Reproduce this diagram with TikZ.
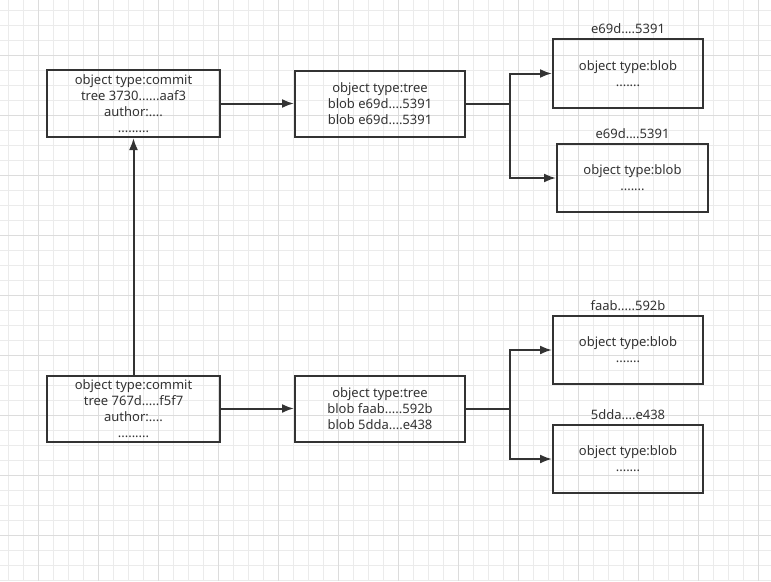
\documentclass[tikz,border=0pt]{standalone}
\usepackage{fontspec}
\setmainfont{Noto Sans}
\usetikzlibrary{arrows.meta}
\definecolor{ink}{HTML}{333333}
\definecolor{gridminor}{HTML}{EBEBEB}
\definecolor{gridmajor}{HTML}{DCDCDC}
\begin{document}
\begin{tikzpicture}[x=1pt, y=-1pt,
    obj/.style={draw=ink, line width=2pt, text=ink, align=center,
      font=\fontsize{13}{16}\selectfont, inner sep=0pt},
    lbl/.style={text=ink, font=\fontsize{13}{16}\selectfont, inner sep=4pt},
    arr/.style={-{Latex[length=12pt,width=9pt]}, draw=ink, line width=2pt}]
    \useasboundingbox (0,0) rectangle (771,581);
    \fill[white] (0,0) rectangle (771,581);
    % grid
    \foreach \x in {8,23,...,770} \draw[gridminor, line width=1pt] (\x,0) -- (\x,581);
    \foreach \y in {10,25,...,580} \draw[gridminor, line width=1pt] (0,\y) -- (771,\y);
    \foreach \x in {38,98,...,770} \draw[gridmajor, line width=1pt] (\x,0) -- (\x,581);
    \foreach \y in {55,115,...,580} \draw[gridmajor, line width=1pt] (0,\y) -- (771,\y);

    \node[obj, minimum width=173pt, minimum height=67pt] (commitA) at (133.5,103.5)
    {object type:commit\\tree 3730......aaf3\\author:....\\.........};
    \node[obj, minimum width=170pt, minimum height=66pt] (treeA) at (380,103.5)
    {object type:tree\\blob e69d....5391\\blob e69d....5391};
    \node[obj, minimum width=150pt, minimum height=69pt,
    label={[lbl]above:e69d....5391}] (blobA) at (628,73.5)
    {object type:blob\\.......};
    \node[obj, minimum width=151pt, minimum height=68pt,
    label={[lbl]above:e69d....5391}] (blobB) at (632.5,178)
    {object type:blob\\.......};

    \node[obj, minimum width=173pt, minimum height=66pt] (commitB) at (133.5,408.5)
    {object type:commit\\tree 767d.....f5f7\\author:....\\.........};
    \node[obj, minimum width=170pt, minimum height=66pt] (treeB) at (380,408.5)
    {object type:tree\\blob faab.....592b\\blob 5dda....e438};
    \node[obj, minimum width=150pt, minimum height=68pt,
    label={[lbl]above:faab.....592b}] (blobC) at (628,350)
    {object type:blob\\.......};
    \node[obj, minimum width=150pt, minimum height=68pt,
    label={[lbl]above:5dda....e438}] (blobD) at (628,459)
    {object type:blob\\.......};

    \coordinate (forkA) at (510,103.5);
    \coordinate (forkB) at (510,408.5);

    \draw[arr] (commitA) -- (treeA);
    \draw[arr] (commitB) -- (commitA);
    \draw[arr] (commitB) -- (treeB);
    \draw[arr] (treeA) -- (forkA) |- (blobA);
    \draw[arr] (treeA) -- (forkA) |- (blobB);
    \draw[arr] (treeB) -- (forkB) |- (blobC);
    \draw[arr] (treeB) -- (forkB) |- (blobD);
  \end{tikzpicture}
\end{document}
